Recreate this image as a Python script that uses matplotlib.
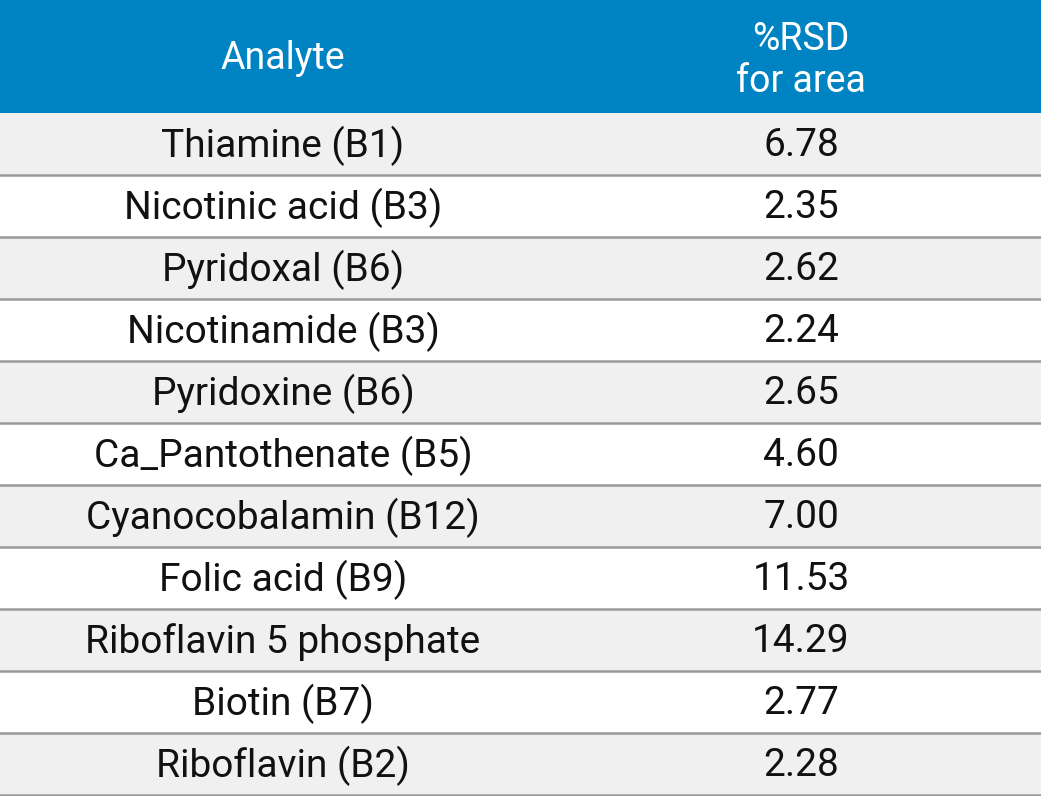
import matplotlib
matplotlib.use("Agg")
import matplotlib.pyplot as plt
from matplotlib.patches import Rectangle

header = ["Analyte", "%RSD\nfor area"]
analytes = ["Thiamine (B1)", "Nicotinic acid (B3)", "Pyridoxal (B6)", "Nicotinamide (B3)",
            "Pyridoxine (B6)", "Ca_Pantothenate (B5)", "Cyanocobalamin (B12)", "Folic acid (B9)",
            "Riboflavin 5 phosphate", "Biotin (B7)", "Riboflavin (B2)"]
rsd = ["6.78", "2.35", "2.62", "2.24", "2.65", "4.60", "7.00", "11.53", "14.29", "2.77", "2.28"]

W, H = 1041, 796
fig = plt.figure(figsize=(W/100, H/100), dpi=100)
ax = fig.add_axes([0, 0, 1, 1])
ax.set_xlim(0, W); ax.set_ylim(H, 0); ax.axis("off")

hdr_h = 113
row_h = (H - 1 - hdr_h) / len(analytes)
font = "Roboto"
fs = 28
ax.add_patch(Rectangle((0, 0), W, hdr_h, color="#0083c3", lw=0))
ax.text(283, hdr_h/2 + 2, header[0], ha="center", va="center", color="white", fontsize=fs - 1, family=font)
ax.text(801, hdr_h/2 + 4, header[1], ha="center", va="center", color="white", fontsize=fs - 1, family=font, linespacing=1.15)
for i, (a, v) in enumerate(zip(analytes, rsd)):
    y0 = hdr_h + i*row_h
    ax.add_patch(Rectangle((0, y0), W, row_h, color="#f1f0f1" if i % 2 == 0 else "white", lw=0))
    ax.text(283, y0 + row_h/2 + 2, a, ha="center", va="center", color="#111111", fontsize=fs, family=font)
    ax.text(801, y0 + row_h/2 + 2, v, ha="center", va="center", color="#111111", fontsize=fs, family=font)
    ax.plot([0, W], [y0 + row_h, y0 + row_h], color="#9a9a9a", lw=1.8)
fig.savefig("out.png", dpi=100)
